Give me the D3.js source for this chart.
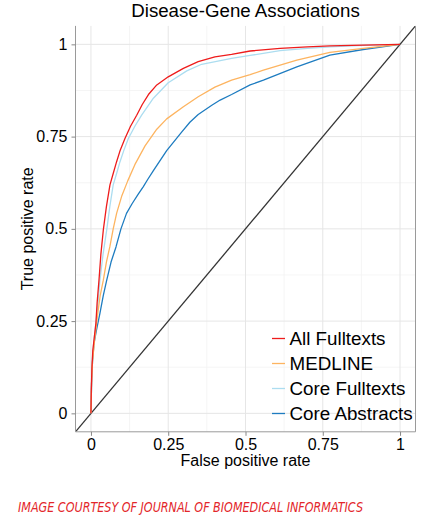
<!DOCTYPE html>
<html><head><meta charset="utf-8">
<script src="https://cdn.jsdelivr.net/npm/d3@7"></script>
<style>
html,body{margin:0;padding:0;background:#fff;}
svg{display:block;font-family:"Liberation Sans",Arial,Helvetica,sans-serif;}
</style></head>
<body>
<svg id="chart" width="430" height="528"></svg>
<script>
const seriesNames = ["All Fulltexts","MEDLINE","Core Fulltexts","Core Abstracts"];
const seriesColors = ["#EE1C1C","#FDB460","#ACDDF0","#1E7CC0"];

const allFulltextsFpr = [0,0.001,0.003,0.006,0.010,0.016,0.020,0.026,0.032,0.040,0.050,0.0615,0.072,0.083,0.095,0.110,0.128,0.148,0.166,0.186,0.213,0.250,0.299,0.347,0.401,0.455,0.515,0.612,0.700,0.773,0.880,1];
const allFulltextsTpr = [0,0.06,0.12,0.17,0.20,0.244,0.30,0.361,0.43,0.497,0.56,0.619,0.65,0.682,0.714,0.745,0.778,0.808,0.837,0.864,0.890,0.912,0.935,0.953,0.966,0.973,0.982,0.989,0.993,0.996,0.998,1];

const medlineFpr = [0,0.002,0.005,0.012,0.022,0.030,0.040,0.050,0.061,0.072,0.083,0.100,0.119,0.142,0.175,0.213,0.245,0.299,0.347,0.401,0.455,0.515,0.558,0.666,0.773,0.881,1];
const medlineTpr = [0,0.08,0.14,0.20,0.271,0.32,0.361,0.41,0.451,0.50,0.542,0.59,0.630,0.674,0.725,0.770,0.798,0.831,0.858,0.884,0.903,0.918,0.930,0.957,0.978,0.989,1];

const coreFulltextsFpr = [0,0.002,0.004,0.010,0.018,0.024,0.029,0.039,0.051,0.061,0.072,0.083,0.094,0.107,0.121,0.142,0.164,0.202,0.250,0.310,0.358,0.455,0.515,0.612,0.700,0.773,0.880,1];
const coreFulltextsTpr = [0,0.08,0.14,0.20,0.26,0.31,0.361,0.43,0.497,0.56,0.619,0.650,0.682,0.714,0.745,0.778,0.808,0.854,0.896,0.928,0.946,0.962,0.970,0.983,0.989,0.993,0.997,1];

const coreAbstractsFpr = [0,0.002,0.005,0.010,0.018,0.029,0.040,0.051,0.065,0.081,0.097,0.115,0.133,0.153,0.169,0.183,0.202,0.245,0.294,0.320,0.347,0.391,0.418,0.455,0.515,0.558,0.666,0.773,0.881,1];
const coreAbstractsTpr = [0,0.08,0.14,0.19,0.226,0.271,0.32,0.361,0.41,0.451,0.50,0.542,0.568,0.594,0.614,0.633,0.658,0.712,0.763,0.789,0.810,0.835,0.849,0.864,0.890,0.903,0.939,0.971,0.986,1];

const tickValues = [0,0.25,0.5,0.75,1];
const tickLabels = ["0","0.25","0.5","0.75","1"];
const minorTicks = [0.125,0.375,0.625,0.875];

const W = 430, H = 528;
const margin = {left:75.5, right:14.5, top:25.9, bottom:96.2};
const x = d3.scaleLinear().domain([-0.05,1.05]).range([margin.left, W-margin.right]);
const y = d3.scaleLinear().domain([-0.05,1.05]).range([H-margin.bottom, margin.top]);

const svg = d3.select("#chart");
svg.append("rect").attr("width",W).attr("height",H).attr("fill","#fff");

svg.append("defs").append("clipPath").attr("id","panel")
  .append("rect").attr("x",x(-0.05)).attr("y",y(1.05))
  .attr("width",x(1.05)-x(-0.05)).attr("height",y(-0.05)-y(1.05));

// grid
const grid = svg.append("g");
minorTicks.forEach(v=>{
  grid.append("line").attr("x1",x(v)).attr("x2",x(v)).attr("y1",y(-0.05)).attr("y2",y(1.05)).attr("stroke","#f3f3f3").attr("stroke-width",0.8);
  grid.append("line").attr("y1",y(v)).attr("y2",y(v)).attr("x1",x(-0.05)).attr("x2",x(1.05)).attr("stroke","#f3f3f3").attr("stroke-width",0.8);
});
tickValues.forEach(v=>{
  grid.append("line").attr("x1",x(v)).attr("x2",x(v)).attr("y1",y(-0.05)).attr("y2",y(1.05)).attr("stroke","#e6e6e6").attr("stroke-width",1);
  grid.append("line").attr("y1",y(v)).attr("y2",y(v)).attr("x1",x(-0.05)).attr("x2",x(1.05)).attr("stroke","#e6e6e6").attr("stroke-width",1);
});

// diagonal
const plot = svg.append("g").attr("clip-path","url(#panel)");
plot.append("line").attr("x1",x(-0.05)).attr("y1",y(-0.05)).attr("x2",x(1.05)).attr("y2",y(1.05))
  .attr("stroke","#333").attr("stroke-width",1.3);

const series = [
  {name:seriesNames[3], color:seriesColors[3], fpr:coreAbstractsFpr, tpr:coreAbstractsTpr},
  {name:seriesNames[2], color:seriesColors[2], fpr:coreFulltextsFpr, tpr:coreFulltextsTpr},
  {name:seriesNames[1], color:seriesColors[1], fpr:medlineFpr, tpr:medlineTpr},
  {name:seriesNames[0], color:seriesColors[0], fpr:allFulltextsFpr, tpr:allFulltextsTpr}
];
const line = d3.line().x(d=>x(d[0])).y(d=>y(d[1]));
series.forEach(s=>{
  plot.append("path").datum(s.fpr.map((f,i)=>[f,s.tpr[i]]))
    .attr("d",line).attr("fill","none").attr("stroke",s.color).attr("stroke-width",1.3)
    .attr("stroke-linejoin","round");
});

// panel border (left, bottom, right)
const bc = "#9a9a9a";
svg.append("line").attr("x1",x(-0.05)).attr("x2",x(-0.05)).attr("y1",y(1.05)).attr("y2",y(-0.05)).attr("stroke",bc).attr("stroke-width",1);
svg.append("line").attr("x1",x(-0.05)).attr("x2",x(1.05)).attr("y1",y(-0.05)).attr("y2",y(-0.05)).attr("stroke",bc).attr("stroke-width",1);
svg.append("line").attr("x1",x(1.05)).attr("x2",x(1.05)).attr("y1",y(1.05)).attr("y2",y(-0.05)).attr("stroke",bc).attr("stroke-width",1);

// axes
const fmt = d => tickLabels[tickValues.indexOf(d)];
const yAxis = svg.append("g").attr("transform",`translate(${x(-0.05)},0)`)
  .call(d3.axisLeft(y).tickValues(tickValues).tickFormat(fmt).tickSize(4).tickPadding(4));
const xAxis = svg.append("g").attr("transform",`translate(0,${y(-0.05)})`)
  .call(d3.axisBottom(x).tickValues(tickValues).tickFormat(fmt).tickSize(4).tickPadding(3));
[xAxis,yAxis].forEach(a=>{
  a.select(".domain").remove();
  a.selectAll(".tick line").attr("stroke","#888");
  a.selectAll(".tick text").attr("fill","#000").style("font-size","16px").style("font-family","'Liberation Sans',Arial,sans-serif");
});

// titles
svg.append("text").attr("x",(x(-0.05)+x(1.05))/2).attr("y",17).attr("text-anchor","middle")
  .style("font-size","18.7px").text("Disease-Gene Associations");
svg.append("text").attr("x",(x(-0.05)+x(1.05))/2).attr("y",466).attr("text-anchor","middle")
  .style("font-size","16px").text("False positive rate");
svg.append("text").attr("transform",`translate(33,${(y(-0.05)+y(1.05))/2}) rotate(-90)`).attr("text-anchor","middle")
  .style("font-size","16px").text("True positive rate");

// legend
const legend = svg.append("g");
seriesNames.forEach((n,i)=>{
  const cy = 338.5 + i*25;
  legend.append("line").attr("x1",272).attr("x2",285).attr("y1",cy).attr("y2",cy).attr("stroke",seriesColors[i]).attr("stroke-width",1.3);
  legend.append("text").attr("x",289.5).attr("y",cy+6.3).style("font-size","18.8px").attr("fill","#000").text(n);
});

// caption
svg.append("text").attr("x",18).attr("y",511.5)
  .attr("textLength",345).attr("lengthAdjust","spacingAndGlyphs")
  .style("font-family","'Liberation Sans Narrow','DejaVu Sans Condensed','Liberation Sans',sans-serif")
  .style("font-style","italic").style("font-size","14px").attr("fill","#E3262A")
  .text("IMAGE COURTESY OF JOURNAL OF BIOMEDICAL INFORMATICS");
</script>
</body></html>
